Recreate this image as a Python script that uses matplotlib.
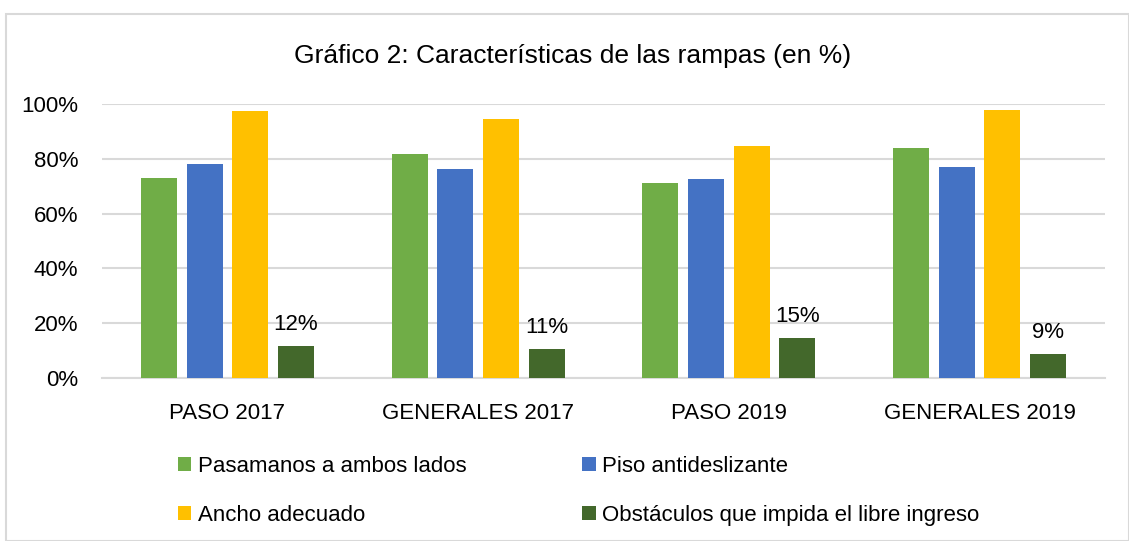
import matplotlib
matplotlib.use("Agg")
import matplotlib.pyplot as plt
from matplotlib.patches import Rectangle
import numpy as np

plt.rcParams['font.family'] = ['Liberation Sans Narrow', 'Liberation Sans', 'DejaVu Sans']

categories = ["PASO 2017", "GENERALES 2017", "PASO 2019", "GENERALES 2019"]
series_names = ["Pasamanos a ambos lados", "Piso antideslizante", "Ancho adecuado",
                "Obstáculos que impida el libre ingreso"]
pasamanos = [72.9, 81.6, 71.0, 83.9]
piso = [78.2, 76.2, 72.7, 76.9]
ancho = [97.4, 94.6, 84.7, 97.9]
obstaculos = [11.6, 10.6, 14.6, 8.6]
colors = ["#70AD47", "#4472C4", "#FFC000", "#43682B"]
yticks = [0, 20, 40, 60, 80, 100]

W, H = 1129, 541
fig = plt.figure(figsize=(W / 100, H / 100), dpi=100)
fig.patch.set_facecolor("white")
fig.patches.append(Rectangle((6 / W, 0), 1 - 6 / W, 1 - 14 / H, transform=fig.transFigure,
                             fill=False, edgecolor="#D9D9D9", linewidth=1.5))

ax = fig.add_axes([102 / W, (H - 378) / H, 1003 / W, 274 / H])
x = np.arange(len(categories))
step = 0.182
width = 0.144
all_series = [pasamanos, piso, ancho, obstaculos]
bars = []
for i, (vals, c, name) in enumerate(zip(all_series, colors, series_names)):
    b = ax.bar(x + (i - 1.5) * step, vals, width=width, color=c, label=name, zorder=3)
    bars.append(b)

for rect, v in zip(bars[3], obstaculos):
    ax.text(rect.get_x() + rect.get_width() / 2, v + 4, f"{v:.0f}%", ha="center", va="bottom",
            fontsize=16, color="#000000")

ax.set_xlim(-0.5, 3.5)
ax.set_ylim(0, 100)
ax.set_yticks(yticks)
ax.set_yticklabels([f"{t}%" for t in yticks], fontsize=16)
ax.set_xticks(x)
ax.set_xticklabels(categories, fontsize=16)
ax.tick_params(axis="x", length=0, pad=18)
ax.tick_params(axis="y", length=0, pad=17)
ax.grid(axis="y", color="#D9D9D9", linewidth=1.5, zorder=0)
for s in ["top", "right", "left"]:
    ax.spines[s].set_visible(False)
ax.spines["bottom"].set_color("#D9D9D9")
ax.spines["bottom"].set_linewidth(1.5)

fig.text(573 / W, 1 - 56 / H, "Gráfico 2: Características de las rampas (en %)",
         ha="center", va="center", fontsize=19)

handles = [bars[0], bars[2], bars[1], bars[3]]
labels = [series_names[0], series_names[2], series_names[1], series_names[3]]
fig.legend(handles, labels, ncol=2, loc="upper left", bbox_to_anchor=(178 / W, 1 - 456 / H),
           frameon=False, fontsize=16, handlelength=0.6, handleheight=0.6, handletextpad=0.3,
           columnspacing=5.2, labelspacing=1.25, borderpad=0, borderaxespad=0)

fig.savefig("out.png", dpi=100)
